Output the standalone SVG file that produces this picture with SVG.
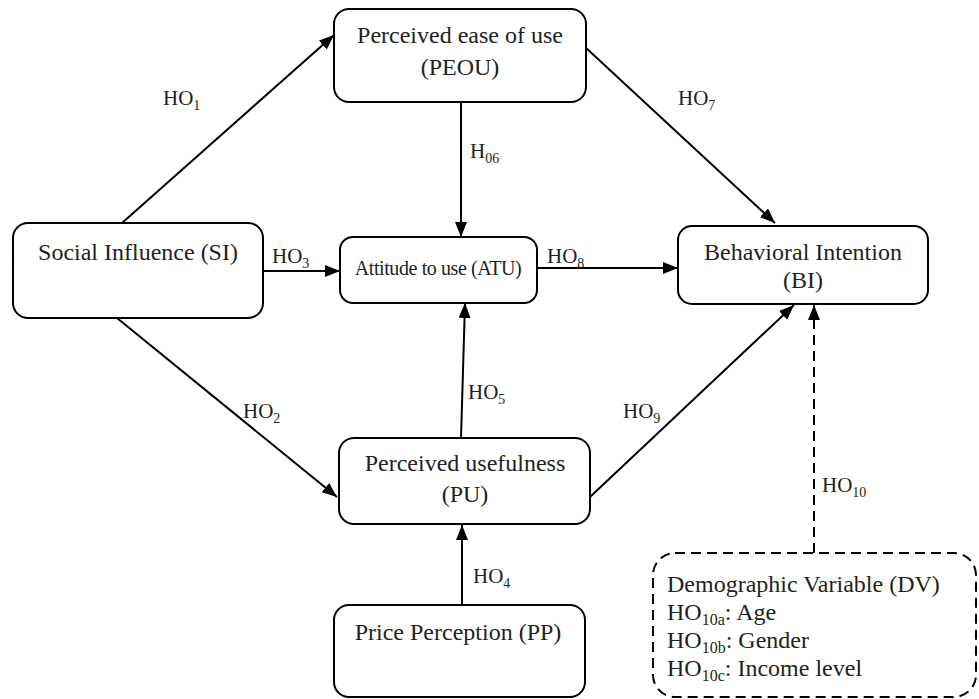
<svg xmlns="http://www.w3.org/2000/svg" width="979" height="699" viewBox="0 0 979 699">
<style>
.box{fill:#fff;stroke:#000;stroke-width:2}
.dash{fill:#fff;stroke:#000;stroke-width:2;stroke-dasharray:10 6}
.t{font-family:'Liberation Serif','Times New Roman','DejaVu Serif',serif;font-size:24px;fill:#231f20}
.c{text-anchor:middle}
.lb{font-family:'Liberation Serif','Times New Roman','DejaVu Serif',serif;font-size:21px;fill:#231f20}
.s{font-size:14px}
.ds{font-size:16px}
.ln{stroke:#000;stroke-width:2;fill:none;marker-end:url(#ah)}
</style>
<defs>
<marker id="ah" markerUnits="userSpaceOnUse" markerWidth="16" markerHeight="12" refX="15" refY="6" orient="auto">
<path d="M0,0 L15,6 L0,12 z" fill="#000"/>
</marker>
</defs>
<rect width="979" height="699" fill="#fff"/>
<g id="connectors">
<line class="ln" x1="122" y1="223" x2="334" y2="35"/>
<line class="ln" x1="117" y1="318" x2="337" y2="497"/>
<line class="ln" x1="263" y1="271" x2="340" y2="271"/>
<line class="ln" x1="462" y1="605" x2="462" y2="525"/>
<line class="ln" x1="461" y1="438" x2="465" y2="303"/>
<line class="ln" x1="461" y1="102" x2="461" y2="237"/>
<line class="ln" x1="585" y1="47" x2="775" y2="223"/>
<line class="ln" x1="537" y1="268" x2="678" y2="268"/>
<line class="ln" x1="590" y1="497" x2="794" y2="305"/>
<line class="ln" x1="814" y1="553" x2="814" y2="305" stroke-dasharray="10 6"/>
<text class="lb" x="163" y="105">HO<tspan class="s" dy="5">1</tspan></text>
<text class="lb" x="243" y="418">HO<tspan class="s" dy="5">2</tspan></text>
<text class="lb" x="272" y="263">HO<tspan class="s" dy="5">3</tspan></text>
<text class="lb" x="473" y="583">HO<tspan class="s" dy="5">4</tspan></text>
<text class="lb" x="468" y="399">HO<tspan class="s" dy="5">5</tspan></text>
<text class="lb" x="470" y="158">H<tspan class="s" dy="5">06</tspan></text>
<text class="lb" x="678" y="105">HO<tspan class="s" dy="5">7</tspan></text>
<text class="lb" x="547" y="263">HO<tspan class="s" dy="5">8</tspan></text>
<text class="lb" x="623" y="418">HO<tspan class="s" dy="5">9</tspan></text>
<text class="lb" x="822" y="492">HO<tspan class="s" dy="5">10</tspan></text>
</g>
<g id="PEOU">
<rect class="box" x="334" y="9" width="252" height="93" rx="15"/>
<text class="t c" x="460" y="43">Perceived ease of use</text>
<text class="t c" x="460" y="75">(PEOU)</text>
</g>
<g id="SI">
<rect class="box" x="13" y="223" width="250" height="95" rx="15"/>
<text class="t c" x="138" y="260">Social Influence (SI)</text>
</g>
<g id="ATU">
<rect class="box" x="340" y="237" width="197" height="66" rx="13"/>
<text class="t c" x="438" y="275" style="font-size:20px;letter-spacing:-0.4px">Attitude to use (ATU)</text>
</g>
<g id="BI">
<rect class="box" x="678" y="226" width="250" height="78" rx="14"/>
<text class="t c" x="803" y="260">Behavioral Intention</text>
<text class="t c" x="803" y="288">(BI)</text>
</g>
<g id="PU">
<rect class="box" x="339" y="438" width="251" height="86" rx="15"/>
<text class="t c" x="465" y="471">Perceived usefulness</text>
<text class="t c" x="465" y="502">(PU)</text>
</g>
<g id="PP">
<rect class="box" x="334" y="605" width="251" height="92" rx="15"/>
<text class="t c" x="458" y="640">Price Perception (PP)</text>
</g>
<g id="DV">
<rect class="dash" x="653" y="553" width="323" height="144" rx="22"/>
<text class="t" x="667" y="592">Demographic Variable (DV)</text>
<text class="t" x="667" y="620">HO<tspan class="ds" dy="5">10a</tspan><tspan dy="-5">: Age</tspan></text>
<text class="t" x="667" y="648">HO<tspan class="ds" dy="5">10b</tspan><tspan dy="-5">: Gender</tspan></text>
<text class="t" x="667" y="676">HO<tspan class="ds" dy="5">10c</tspan><tspan dy="-5">: Income level</tspan></text>
</g>
</svg>
